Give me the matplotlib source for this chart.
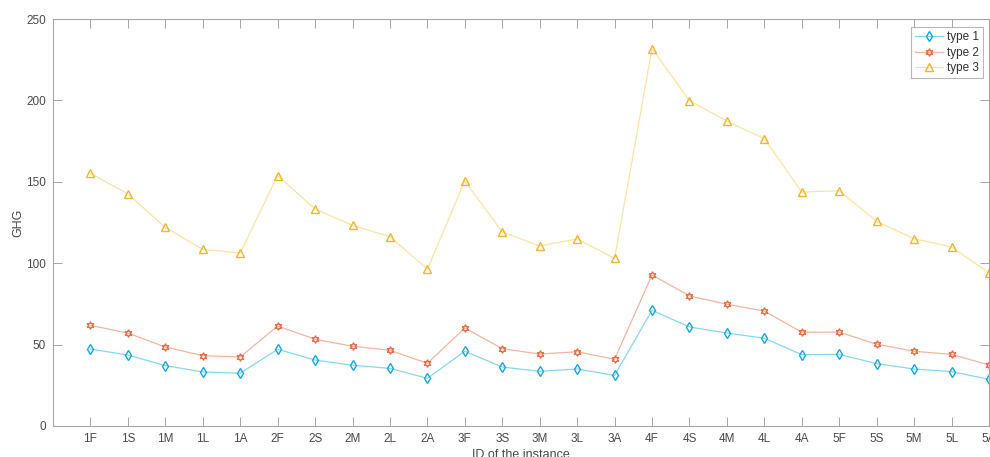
import matplotlib.pyplot as plt
import numpy as np

# Instance IDs
ids = ['1F', '1S', '1M', '1L', '1A', '2F', '2S', '2M', '2L', '2A',
       '3F', '3S', '3M', '3L', '3A', '4F', '4S', '4M', '4L', '4A',
       '5F', '5S', '5M', '5L', '5A']

# GHG per type
type1 = [47.3, 43.6, 37.1, 33.2, 32.4, 47.1, 40.5, 37.3, 35.4, 29.3,
         45.9, 36.2, 33.6, 35.0, 31.1, 71.1, 60.8, 57.1, 53.9, 43.8,
         44.0, 38.3, 35.0, 33.4, 28.7]
type2 = [61.8, 57.1, 48.5, 43.2, 42.4, 61.4, 53.3, 49.0, 46.5, 38.5,
         60.2, 47.5, 44.2, 45.6, 41.0, 92.8, 79.9, 74.8, 70.6, 57.6,
         57.7, 50.2, 45.9, 44.0, 37.5]
type3 = [155.2, 142.5, 122.0, 108.5, 106.3, 153.8, 133.3, 123.3, 116.3, 96.4,
         150.5, 119.2, 110.6, 114.9, 103.0, 231.8, 199.8, 187.3, 176.5, 143.7,
         144.5, 125.7, 115.0, 110.0, 94.0]

plt.rcParams['font.family'] = ['Liberation Sans', 'DejaVu Sans']
plt.rcParams['font.size'] = 8

fig = plt.figure(figsize=(9.9, 4.57), dpi=100)
ax = fig.add_axes([53/990, 1-426/457, (989-53)/990, (426-19)/457])

x = np.arange(1, len(ids) + 1)
ax.plot(x, type1, '-', color='#86d8f2', lw=0.9, marker='d', ms=5,
        mfc='none', mec='#17a7dc', mew=1.0, label='type 1')
ax.plot(x, type2, '-', color='#f6b59e', lw=0.9, marker=(6, 1, 0), ms=5.5,
        mfc='none', mec='#e8643c', mew=0.9, label='type 2')
ax.plot(x, type3, '-', color='#fde3a2', lw=0.9, marker='^', ms=5.5,
        mfc='none', mec='#f0b72a', mew=1.0, label='type 3')

ax.set_xlim(0, 25)
ax.set_ylim(0, 250)
ax.set_xticks(x)
ax.set_xticklabels(ids)
ax.set_yticks(np.arange(0, 251, 50))

for s in ax.spines.values():
    s.set_color('#a6a6a6')
    s.set_linewidth(0.8)
ax.tick_params(direction='in', length=6.5, width=0.7, color='#a6a6a6',
               labelcolor='#4a4a4a', top=True, right=True, labelsize=8.5)
ax.tick_params(axis='x', pad=5)
ax.tick_params(axis='y', pad=5)

ax.set_xlabel('ID of the instance', color='#4a4a4a', fontsize=9, labelpad=3)
ax.set_ylabel('GHG', color='#4a4a4a', fontsize=9, labelpad=1)

leg = ax.legend(loc='upper right', bbox_to_anchor=(0.9935, 0.98), fontsize=8.5,
                frameon=True, fancybox=False, handlelength=2.4,
                borderpad=0.35, labelspacing=0.3, handletextpad=0.3,
                borderaxespad=0)
leg.get_frame().set_edgecolor('#a6a6a6')
leg.get_frame().set_linewidth(0.8)
for t in leg.get_texts():
    t.set_color('#333333')

fig.savefig('out.png', dpi=100)
